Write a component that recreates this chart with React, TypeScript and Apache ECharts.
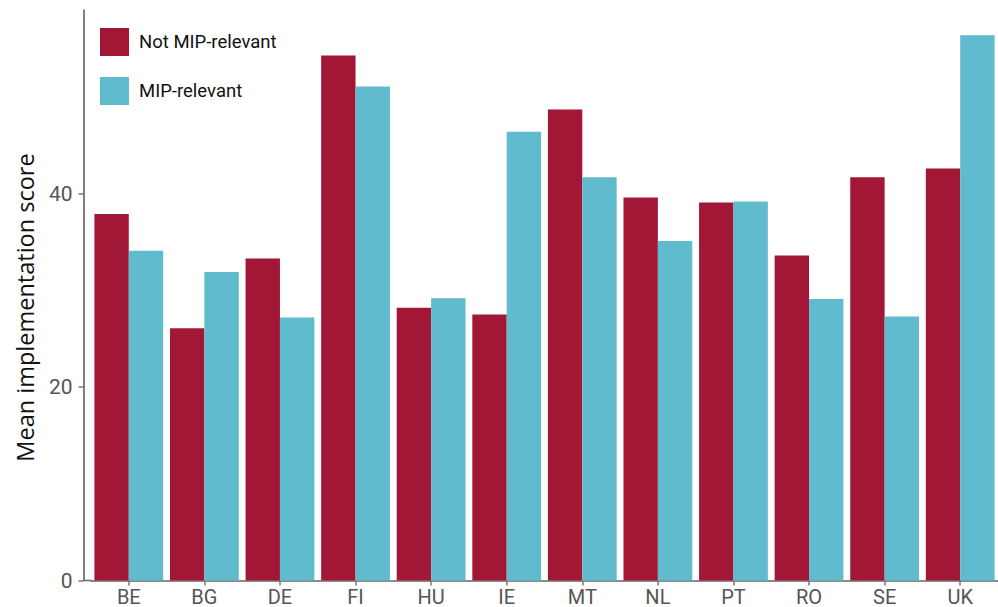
import React, { useEffect, useRef } from "react";
import * as echarts from "echarts";

const categories = ["BE", "BG", "DE", "FI", "HU", "IE", "MT", "NL", "PT", "RO", "SE", "UK"];
const notMipRelevant = [37.9, 26.1, 33.3, 54.3, 28.2, 27.5, 48.7, 39.6, 39.1, 33.6, 41.7, 42.6];
const mipRelevant = [34.1, 31.9, 27.2, 51.1, 29.2, 46.4, 41.7, 35.1, 39.2, 29.1, 27.3, 56.4];
const seriesNames = ["Not MIP-relevant", "MIP-relevant"];
const yAxisTitle = "Mean implementation score";

const RED = "#A31736";
const BLUE = "#61BBCE";
const TICK_FONT = "Roboto, 'DejaVu Sans', sans-serif";

export default function App() {
  const ref = useRef<HTMLDivElement>(null);
  useEffect(() => {
    if (!ref.current) return;
    const chart = echarts.init(ref.current, undefined, { renderer: "svg" });
    chart.setOption({
      animation: false,
      backgroundColor: "#ffffff",
      grid: { left: 91, right: -3, top: 10, bottom: 26.5, containLabel: false },
      legend: {
        orient: "vertical",
        left: 100,
        top: 28,
        padding: 0,
        itemWidth: 29,
        itemHeight: 28,
        itemGap: 21,
        icon: "rect",
        data: seriesNames,
        textStyle: { fontSize: 18.5, color: "#111", fontFamily: TICK_FONT, padding: [0, 0, 0, 5] },
      },
      xAxis: {
        type: "category",
        data: categories,
        axisLine: { show: true, lineStyle: { color: "#666", width: 1.5 } },
        axisTick: { show: true, alignWithLabel: true, length: 5, lineStyle: { color: "#777", width: 1.5 } },
        axisLabel: { fontSize: 20, color: "#555", fontFamily: TICK_FONT, margin: 6 },
      },
      yAxis: {
        type: "value",
        min: 0,
        max: 59,
        interval: 20,
        offset: 7.5,
        splitLine: { show: false },
        axisLine: { show: true, lineStyle: { color: "#555", width: 1.5 } },
        axisTick: { show: true, length: 5, lineStyle: { color: "#777", width: 1.5 } },
        axisLabel: { fontSize: 21, color: "#555", fontFamily: TICK_FONT, margin: 11, showMaxLabel: false },
      },
      graphic: [
        {
          type: "line",
          shape: { x1: 83.5, y1: 580.5, x2: 92, y2: 580.5 },
          style: { stroke: "#666", lineWidth: 1.5 },
          silent: true,
        },
        {
          type: "text",
          x: 37,
          y: 307.5,
          rotation: Math.PI / 2,
          style: {
            text: yAxisTitle,
            fontSize: 23.5,
            fontFamily: "'Open Sans', sans-serif",
            fill: "#111",
            textAlign: "center",
            textVerticalAlign: "bottom",
          },
        },
      ],
      series: [
        {
          name: seriesNames[0],
          type: "bar",
          data: notMipRelevant,
          itemStyle: { color: RED },
          barGap: "0%",
          barCategoryGap: "9%",
        },
        {
          name: seriesNames[1],
          type: "bar",
          data: mipRelevant,
          itemStyle: { color: BLUE },
          barGap: "0%",
          barCategoryGap: "9%",
        },
      ],
    });
    return () => chart.dispose();
  }, []);
  return <div ref={ref} style={{ width: 998, height: 607, position: "absolute", left: 0, top: 0 }} />;
}
